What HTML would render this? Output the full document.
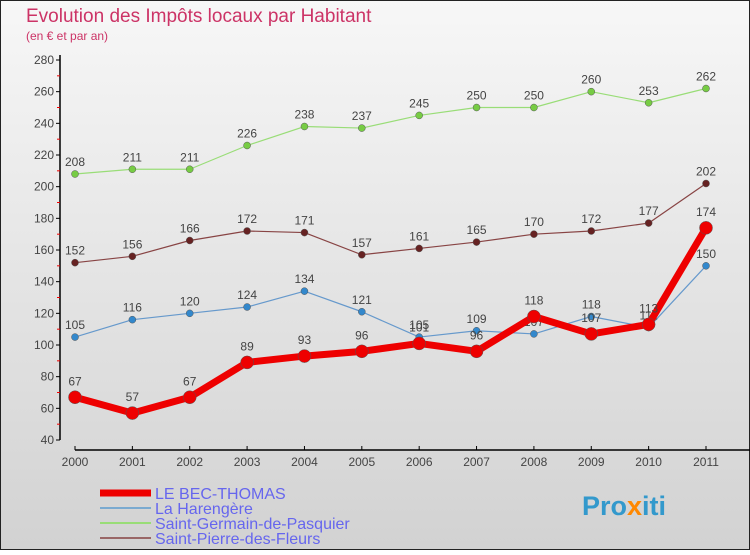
<!DOCTYPE html>
<html><head><meta charset="utf-8"><style>
body{margin:0;width:750px;height:550px;overflow:hidden;font-family:"Liberation Sans",sans-serif}
</style></head><body>
<svg id="c" width="750" height="550" xmlns="http://www.w3.org/2000/svg">
<defs><linearGradient id="bg" x1="0" y1="0" x2="0" y2="1"><stop offset="0" stop-color="#f7f7f7"/><stop offset="1" stop-color="#d2d2d2"/></linearGradient></defs>
<rect x="0.5" y="0.5" width="749" height="549" fill="url(#bg)" stroke="#222"/>
<text x="26" y="22" font-size="19" fill="#cc3366">Evolution des Impôts locaux par Habitant</text>
<text x="26" y="40" font-size="12" fill="#cc3366">(en € et par an)</text>
<g id="axes"></g><g id="series"></g>
<g>
<line x1="100" y1="493" x2="151" y2="493" stroke="#ee0000" stroke-width="7"/>
<text x="155" y="499" font-size="16" fill="#6666ee">LE BEC-THOMAS</text>
<line x1="100" y1="508" x2="151" y2="508" stroke="#7aaad0" stroke-width="2"/>
<text x="155" y="514" font-size="16" fill="#6666ee">La Harengère</text>
<line x1="100" y1="523" x2="151" y2="523" stroke="#99dd77" stroke-width="2"/>
<text x="155" y="529" font-size="16" fill="#6666ee">Saint-Germain-de-Pasquier</text>
<line x1="100" y1="538" x2="151" y2="538" stroke="#996666" stroke-width="2"/>
<text x="155" y="544" font-size="16" fill="#6666ee">Saint-Pierre-des-Fleurs</text>
</g>
<text x="582" y="515" font-size="27" font-weight="bold" fill="#3399cc">Pro<tspan fill="#ff8800">x</tspan>iti</text>
</svg>
<script>
const years=[2000,2001,2002,2003,2004,2005,2006,2007,2008,2009,2010,2011];
const yTicks=[40,60,80,100,120,140,160,180,200,220,240,260,280];
const becThomas=[67,57,67,89,93,96,101,96,118,107,113,174];
const harengere=[105,116,120,124,134,121,105,109,107,118,111,150];
const saintGermain=[208,211,211,226,238,237,245,250,250,260,253,262];
const saintPierre=[152,156,166,172,171,157,161,165,170,172,177,202];
const NS="http://www.w3.org/2000/svg";
const X=i=>75+i*(706-75)/11;
const Y=v=>440-(v-40)*380/240;
function mk(t,a,p){const e=document.createElementNS(NS,t);for(const k in a)e.setAttribute(k,a[k]);p.appendChild(e);return e;}
const ax=document.getElementById('axes');
const yl=mk('line',{x1:60,y1:55,x2:60,y2:440,stroke:'#000','stroke-width':1.5},ax);


const xl=mk('line',{x1:75,y1:450,x2:750,y2:450,stroke:'#000','stroke-width':1.5},ax);


yTicks.forEach((v,i)=>{
 mk('line',{x1:56,y1:Y(v),x2:60,y2:Y(v),stroke:'#000'},ax);
 if(i<yTicks.length-1) mk('line',{x1:57,y1:Y(v+10),x2:60,y2:Y(v+10),stroke:'#e00'},ax);
 const t=mk('text',{x:54,y:Y(v)+4,'text-anchor':'end','font-size':12,fill:'#444'},ax);
 t.textContent=v;
 
 
});
years.forEach((y,i)=>{
 mk('line',{x1:X(i),y1:446,x2:X(i),y2:450,stroke:'#000'},ax);
 const t=mk('text',{x:X(i),y:466,'text-anchor':'middle','font-size':12,fill:'#444'},ax);
 t.textContent=y;
 
 
});
const sg=document.getElementById('series');
function series(d,name,color,dot,w,r){
 const g=mk('g',{},sg);
 
 
 const p=mk('polyline',{points:d.map((v,i)=>X(i)+','+Y(v)).join(' '),fill:'none',stroke:color,'stroke-width':w,'stroke-linejoin':'round'},g);
 
 
 d.forEach((v,i)=>{
  const c=mk('circle',{cx:X(i),cy:Y(v),r:r,fill:dot,stroke:'#555','stroke-width':0.5},g);
  
  
  const t=mk('text',{x:X(i),y:Y(v)-8-(r>4?4:0),'text-anchor':'middle','font-size':12,fill:'#444'},g);
  t.textContent=v;
  
  
 });
}
series(saintGermain,'saint-germain','#99dd77','#77cc44',1.2,3.5);
series(saintPierre,'saint-pierre','#884444','#662222',1.2,3.5);
series(harengere,'harengere','#6699cc','#3388cc',1.2,3.5);
series(becThomas,'bec-thomas','#ee0000','#ee0000',7,6.5);
</script>
</body></html>
